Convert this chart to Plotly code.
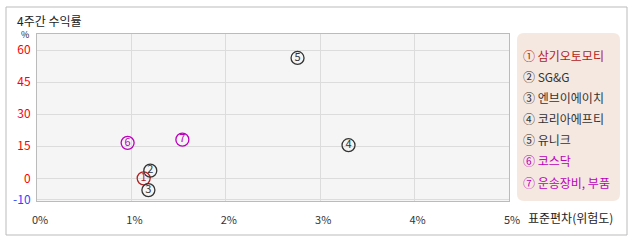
import plotly.graph_objects as go

# Data
labels = ["삼기오토모티", "SG&G", "엔브이에이치", "코리아에프티", "유니크", "코스닥", "운송장비, 부품"]
nums = ["1", "2", "3", "4", "5", "6", "7"]
circled = ["①", "②", "③", "④", "⑤", "⑥", "⑦"]
std_dev = [1.13, 1.20, 1.18, 3.30, 2.76, 0.96, 1.54]      # %
returns_4w = [0.0, 3.6, -5.5, 15.5, 56.3, 16.6, 18.1]      # %
colors = ["#b22222", "#333333", "#333333", "#333333", "#333333", "#bb00bb", "#bb00bb"]
x_ticks = [0, 1, 2, 3, 4, 5]
x_ticktext = ["0%", "1%", "2%", "3%", "4%", "5%"]
y_ticks = [-10, 0, 15, 30, 45, 60]
y_tickcolors = ["#3344ff", "red", "red", "red", "red", "red"]

FONT = "Noto Sans CJK KR"
W, H = 638, 242
L, R, T, B = 37, 638 - 509, 34, 242 - 201
pw, ph = W - L - R, H - T - B

def px_x(p):
    return (p - L) / pw

def px_y(p):
    return (H - B - p) / ph

fig = go.Figure()
fig.add_trace(go.Scatter(
    x=std_dev, y=returns_4w, mode="markers+text",
    text=nums, textposition="middle center",
    textfont=dict(family=FONT, size=11, color=colors),
    marker=dict(symbol="circle-open", size=13, color=colors, line=dict(width=1.3, color=colors)),
    hoverinfo="skip", showlegend=False,
))

y_ticktext = [f"<span style='color:{c}'>{v}</span>" for v, c in zip(y_ticks, y_tickcolors)]

fig.update_layout(
    width=W, height=H,
    margin=dict(l=L, r=R, t=T, b=B, pad=0),
    paper_bgcolor="white", plot_bgcolor="#f5f5f5",
    font=dict(family=FONT, size=11, color="#333"),
    xaxis=dict(range=[0, 5], tickvals=x_ticks, ticktext=x_ticktext, showgrid=True,
               gridcolor="#dcdcdc", gridwidth=1, zeroline=False, showline=True,
               linecolor="#bbbbbb", mirror=True, ticks="outside", ticklen=9,
               ticklabelshift=3,
               tickcolor="rgba(0,0,0,0)", tickfont=dict(size=11, color="#333")),
    yaxis=dict(range=[-10.6, 67.5], tickvals=y_ticks, ticktext=y_ticktext, showgrid=True,
               gridcolor="#dcdcdc", gridwidth=1, zeroline=False, showline=True,
               linecolor="#bbbbbb", mirror=True, ticks="outside", ticklen=3,
               tickcolor="rgba(0,0,0,0)", tickfont=dict(size=12, color="red")),
)

# outer border
fig.add_shape(type="rect", xref="paper", yref="paper",
              x0=px_x(6), x1=px_x(627), y0=px_y(235), y1=px_y(7),
              line=dict(color="#bbbbbb", width=1), fillcolor="rgba(0,0,0,0)", layer="below")

# legend box with rounded corners
lx0, lx1, ly0, ly1 = px_x(517), px_x(620), px_y(201), px_y(33)
rx, ry = 7 / pw, 7 / ph
path = (f"M {lx0+rx},{ly1} L {lx1-rx},{ly1} Q {lx1},{ly1} {lx1},{ly1-ry} "
        f"L {lx1},{ly0+ry} Q {lx1},{ly0} {lx1-rx},{ly0} "
        f"L {lx0+rx},{ly0} Q {lx0},{ly0} {lx0},{ly0+ry} "
        f"L {lx0},{ly1-ry} Q {lx0},{ly1} {lx0+rx},{ly1} Z")
fig.add_shape(type="path", xref="paper", yref="paper", path=path,
              line=dict(width=0), fillcolor="#f5e8e0", layer="below")

# legend entries
legend_y = [55, 76, 97, 118, 139, 160, 182]
for c, lab, col, yy in zip(circled, labels, colors, legend_y):
    fig.add_annotation(xref="paper", yref="paper", x=px_x(521), y=px_y(yy),
                       xanchor="left", yanchor="middle", showarrow=False,
                       text=f"{c} {lab}", font=dict(family=FONT, size=12, color=col))

# title, axis labels
fig.add_annotation(xref="paper", yref="paper", x=px_x(15), y=px_y(20),
                   xanchor="left", yanchor="middle", showarrow=False,
                   text="4주간 수익률", font=dict(family=FONT, size=12, color="#222"))
fig.add_annotation(xref="paper", yref="paper", x=px_x(25), y=px_y(34),
                   xanchor="center", yanchor="middle", showarrow=False,
                   text="%", font=dict(family=FONT, size=9, color="#222"))
fig.add_annotation(xref="paper", yref="paper", x=px_x(526), y=px_y(217),
                   xanchor="left", yanchor="middle", showarrow=False,
                   text="표준편차(위험도)", font=dict(family=FONT, size=12, color="#222"))

fig.write_html("out.html")
